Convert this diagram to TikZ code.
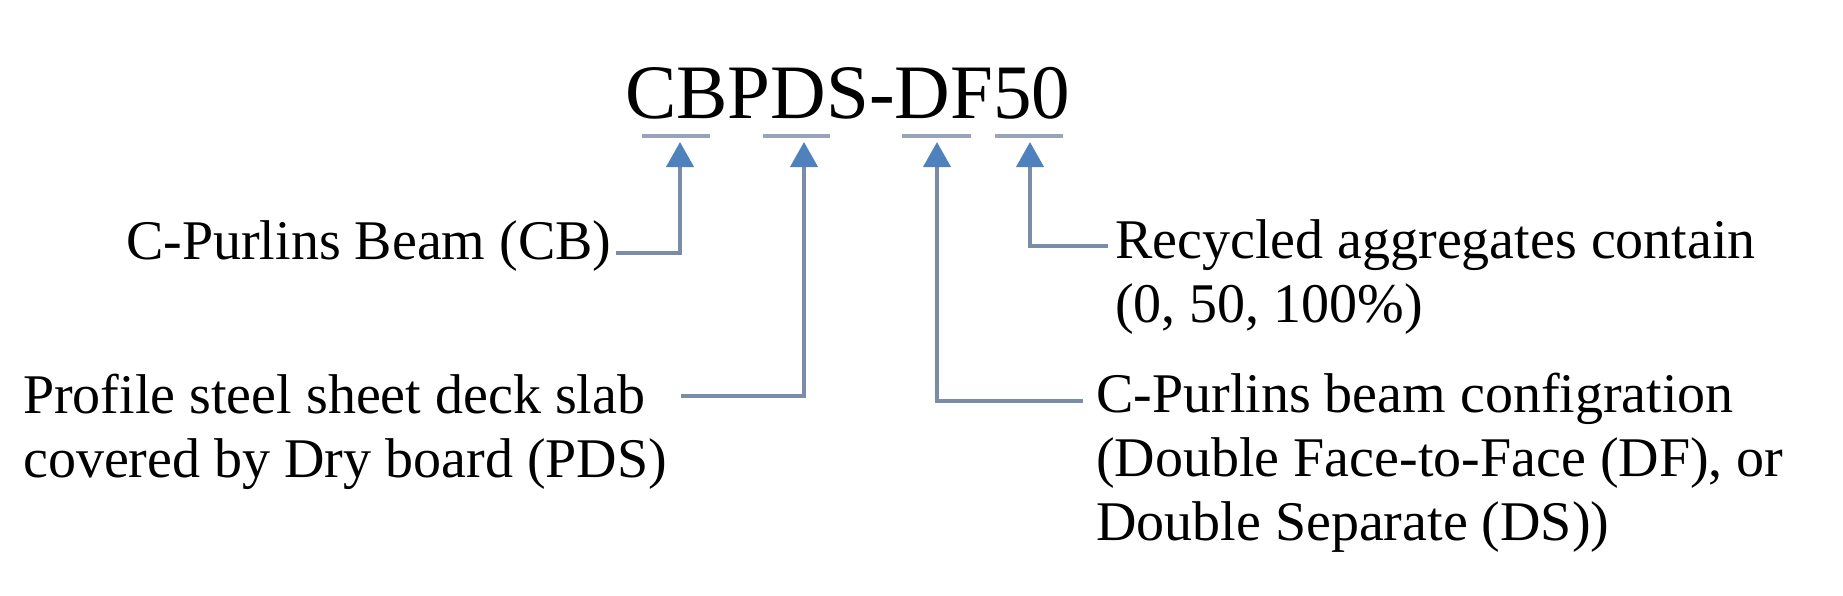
\documentclass[tikz,border=0pt]{standalone}
\usepackage{fontspec}
\setmainfont{Liberation Serif}
\usetikzlibrary{arrows.meta}
\definecolor{connc}{RGB}{122,140,168}
\definecolor{barc}{RGB}{150,163,184}
\definecolor{tipc}{RGB}{79,129,189}
\tikzset{
  conn/.style={draw=connc, line width=4pt, line join=miter,
    -{Triangle[length=25pt,width=27pt,color=tipc]}},
  bar/.style={draw=barc, line width=3.5pt},
  lbl/.style={inner sep=0pt, anchor=base west, align=left,
    font=\fontsize{56}{64}\selectfont},
  ttl/.style={inner sep=0pt, anchor=base west,
    font=\fontsize{77}{90}\selectfont}
}
\begin{document}
\begin{tikzpicture}[x=1pt,y=-1pt]
\useasboundingbox (0,0) rectangle (1843,595);
\fill[white] (0,0) rectangle (1843,595);
% title
\node[ttl] (title) at (625,118) {CBPDS-DF50};
% underline bars
\coordinate (b1l) at (642,136); \coordinate (b1r) at (710,136);
\coordinate (b2l) at (763,136); \coordinate (b2r) at (830,136);
\coordinate (b3l) at (902,136); \coordinate (b3r) at (971,136);
\coordinate (b4l) at (995,136); \coordinate (b4r) at (1063,136);
\draw[bar] (b1l) -- (b1r);
\draw[bar] (b2l) -- (b2r);
\draw[bar] (b3l) -- (b3r);
\draw[bar] (b4l) -- (b4r);
% arrow targets
\coordinate (a1) at (680,142);
\coordinate (a2) at (804,142);
\coordinate (a3) at (937,142);
\coordinate (a4) at (1030,142);
% labels (base = baseline of the last line)
\node[lbl] (cb) at (126,259) {C-Purlins Beam (CB)};
\node[lbl] (pds) at (23,477) {Profile steel sheet deck slab\\covered by Dry board (PDS)};
\node[lbl] (rec) at (1115,322) {Recycled aggregates contain\\(0, 50, 100\%)};
\node[lbl] (cfg) at (1096,540) {C-Purlins beam configration\\(Double Face-to-Face (DF), or\\Double Separate (DS))};
% connectors
\draw[conn] ([shift={(4,-6)}]cb.base east) -| (a1);
\draw[conn] ([shift={(14,-81)}]pds.base east) -| (a2);
\draw[conn] ([shift={(-13,-139)}]cfg.base west) -| (a3);
\draw[conn] ([shift={(-7,-76)}]rec.base west) -| (a4);
\end{tikzpicture}
\end{document}
